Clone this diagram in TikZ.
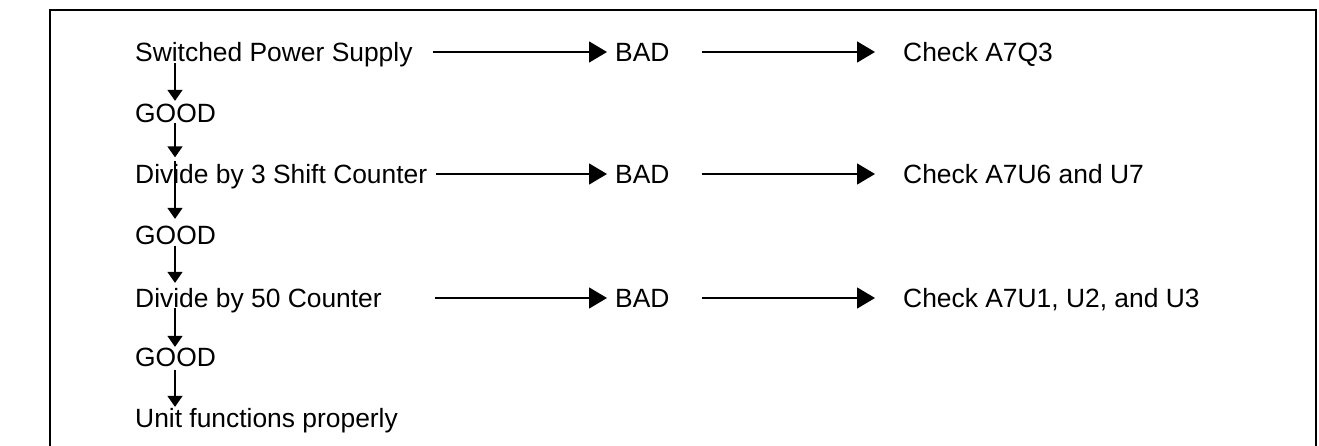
\documentclass[tikz,border=0pt]{standalone}
\usepackage{fontspec}
\setmainfont{Liberation Sans}
\usetikzlibrary{arrows.meta}
\begin{document}
\begin{tikzpicture}[x=1pt,y=-1pt,
  lbl/.style={anchor=west,inner sep=0pt,text height=18.9pt,text depth=0pt,font=\fontsize{26.4pt}{30pt}\selectfont},
  harrow/.style={line width=1.5pt,-{Triangle[length=18pt,width=21pt]}},
  varrow/.style={line width=1.5pt,-{Triangle[length=11pt,width=15pt]}},
  framestyle/.style={line width=2pt}]
\useasboundingbox (0,0) rectangle (1319,446);
\draw[framestyle] (50,448) -- (50,10) -- (1316,10) -- (1316,448);
\coordinate (vx) at (175,0);
\node[lbl] (r1) at (135,52) {Switched Power Supply};
\node[lbl] (b1) at (615,52) {BAD};
\node[lbl] (c1) at (903,52) {Check A7Q3};
\node[lbl] (g1) at (135,113) {GOOD};
\node[lbl] (r2) at (135,174) {Divide by 3 Shift Counter};
\node[lbl] (b2) at (615,174) {BAD};
\node[lbl] (c2) at (903,174) {Check A7U6 and U7};
\node[lbl] (g2) at (135,235) {GOOD};
\node[lbl] (r3) at (135,298) {Divide by 50 Counter};
\node[lbl] (b3) at (615,298) {BAD};
\node[lbl] (c3) at (903,298) {Check A7U1, U2, and U3};
\node[lbl] (g3) at (135,357) {GOOD};
\node[lbl] (u) at (135,418) {Unit functions properly};
% horizontal arrows
\draw[harrow,shorten <=20pt,shorten >=8pt] (r1) -- (b1);
\draw[harrow,shorten <=9pt,shorten >=8pt] (r2) -- (b2);
\draw[harrow,shorten <=53pt,shorten >=8pt] (r3) -- (b3);
\draw[harrow,shorten <=32pt,shorten >=28pt] (b1) -- (c1);
\draw[harrow,shorten <=32pt,shorten >=28pt] (b2) -- (c2);
\draw[harrow,shorten <=32pt,shorten >=28pt] (b3) -- (c3);
% vertical arrows
\draw[varrow] ([yshift=-1.5pt]vx |- r1.south) -- ([yshift=2.5pt]vx |- g1.north);
\draw[varrow] ([yshift=-0.5pt]vx |- g1.south) -- ([yshift=7pt]vx |- r2.north);
\draw[varrow] ([yshift=3pt]vx |- r2.north) -- ([yshift=6.5pt]vx |- g2.north);
\draw[varrow] ([yshift=-1.5pt]vx |- g2.south) -- ([yshift=5.5pt]vx |- r3.north);
\draw[varrow] ([yshift=0pt]vx |- r3.south) -- ([yshift=0.5pt]vx |- g3.north);
\draw[varrow] ([yshift=-3.5pt]vx |- g3.south) -- ([yshift=1.5pt]vx |- u.north);
\end{tikzpicture}
\end{document}
